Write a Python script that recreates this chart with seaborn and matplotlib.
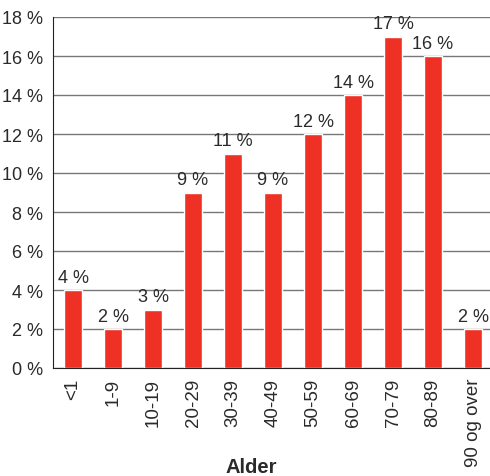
import numpy as np
import matplotlib
matplotlib.use("Agg")
import matplotlib.pyplot as plt
import seaborn as sns

# data
alder = ["<1", "1-9", "10-19", "20-29", "30-39", "40-49", "50-59",
         "60-69", "70-79", "80-89", "90 og over"]
andel = [4, 2, 3, 9, 11, 9, 12, 14, 17, 16, 2]

sns.set_style("white")
plt.rcParams['font.family'] = ['Liberation Sans', 'DejaVu Sans']
tekst = '#2a2a2a'
rod = '#ee3124'

fig = plt.figure(figsize=(4.9, 4.77), dpi=100)
ax = fig.add_axes([53 / 490, 108 / 477, 440 / 490, 351 / 477])

sns.barplot(x=alder, y=andel, color=rod, width=0.43, saturation=1, ax=ax)

# verdier over soylene
for c in ax.containers:
    ax.bar_label(c, labels=['%d %%' % v for v in andel], padding=3,
                 fontsize=13, color=tekst)

ax.set_xlim(-0.5, len(alder) - 0.5)
ax.set_ylim(0, 18)
yt = np.arange(0, 19, 2)
ax.set_yticks(yt)
ax.set_yticklabels(['%d %%' % v for v in yt], fontsize=13, color=tekst)
ax.tick_params(axis='y', length=0, pad=7)

ax.set_xticks(range(len(alder)))
ax.set_xticklabels(alder, rotation=90, fontsize=13.5, color=tekst)
ax.tick_params(axis='x', which='major', length=0, pad=7)
ax.set_xticks(np.arange(-0.5, len(alder), 1), minor=True)
ax.tick_params(axis='x', which='minor', length=6.5, width=1, color='#444444')

ax.yaxis.grid(True, color='#777777', lw=1)
ax.set_axisbelow(True)
for s in ['top', 'right']:
    ax.spines[s].set_visible(False)
ax.spines['left'].set_color('#222222')
ax.spines['bottom'].set_color('#222222')

ax.set_xlabel('Alder', fontsize=14.5, fontweight='bold', color=tekst)
ax.xaxis.set_label_coords((251 - 53) / 440, -(468 - 369) / 351)
ax.xaxis.label.set_va('center')
ax.set_ylabel('')

fig.savefig('out.png', dpi=100)
